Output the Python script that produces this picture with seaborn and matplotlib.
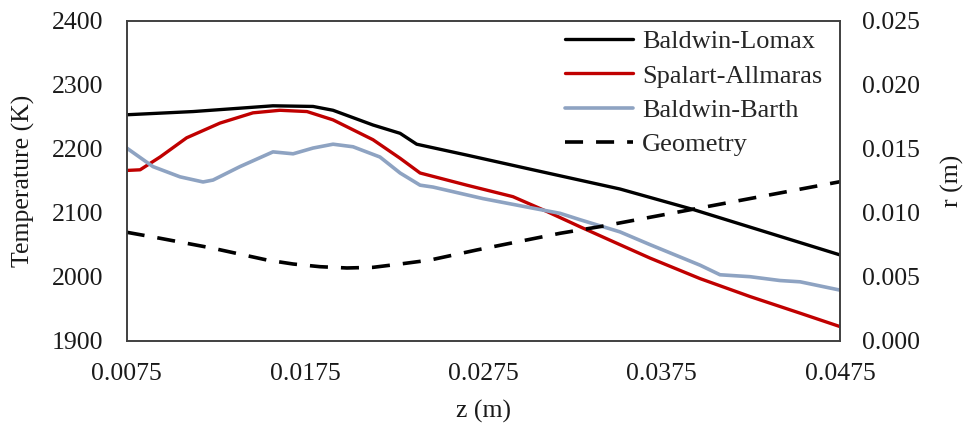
import matplotlib
matplotlib.use("Agg")
import matplotlib.pyplot as plt
import seaborn as sns

# Axial position z (m) and wall temperature (K) for each turbulence model
z_lomax = [0.0075, 0.01122, 0.01570, 0.01795, 0.01907, 0.02131, 0.02283, 0.02376,
           0.02657, 0.03028, 0.03516, 0.03926, 0.0475]
t_lomax = [2253, 2258, 2267, 2266, 2260, 2237, 2224, 2207,
           2190, 2167, 2137, 2105, 2034]

z_spalart = [0.0075, 0.00825, 0.00937, 0.01086, 0.01273, 0.01458, 0.01609, 0.01761,
             0.01907, 0.02131, 0.02283, 0.02395, 0.02657, 0.02916, 0.03105, 0.03292,
             0.03516, 0.03685, 0.03965, 0.04245, 0.04526, 0.0475]
t_spalart = [2166, 2167, 2187, 2217, 2240, 2256, 2260, 2258,
             2245, 2214, 2185, 2162, 2143, 2125, 2102, 2078,
             2050, 2029, 1997, 1969, 1943, 1922]

z_barth = [0.0075, 0.00897, 0.01049, 0.01178, 0.01234, 0.01385, 0.01570, 0.01683,
           0.01795, 0.01907, 0.02019, 0.02170, 0.02283, 0.02395, 0.02468, 0.02748,
           0.03028, 0.03180, 0.03292, 0.03516, 0.03685, 0.03965, 0.04077, 0.04245,
           0.04413, 0.04526, 0.0475]
t_barth = [2201, 2172, 2156, 2148, 2151, 2172, 2195, 2192,
           2201, 2207, 2203, 2187, 2162, 2143, 2140, 2122,
           2107, 2099, 2089, 2070, 2050, 2018, 2003, 2000,
           1994, 1992, 1979]

# Nozzle wall radius r (m) along z
z_geom = [0.0075, 0.00937, 0.01234, 0.01537, 0.01683, 0.01834, 0.01985, 0.02131,
          0.02283, 0.02451, 0.02714, 0.03180, 0.03404, 0.03926, 0.0475]
r_geom = [0.00847, 0.00800, 0.00722, 0.00630, 0.00599, 0.00578, 0.00568, 0.00573,
          0.00599, 0.00630, 0.00709, 0.00839, 0.00891, 0.01027, 0.01242]

x_ticks = [0.0075, 0.0175, 0.0275, 0.0375, 0.0475]
t_ticks = [1900, 2000, 2100, 2200, 2300, 2400]
r_ticks = [0.000, 0.005, 0.010, 0.015, 0.020, 0.025]

sns.set_style("white")
plt.rcParams["font.family"] = ["Liberation Serif", "DejaVu Serif"]
FS = 18.5
FS_LEG = 19
TXT = "#1a1a1a"

fig = plt.figure(figsize=(9.63, 4.23), dpi=100)
ax = fig.add_axes([0.1316, 0.1946, 0.7407, 0.7565])
ax2 = ax.twinx()

sns.lineplot(x=z_lomax, y=t_lomax, ax=ax, color="black", lw=2.4, sort=False)
sns.lineplot(x=z_spalart, y=t_spalart, ax=ax, color="#C00000", lw=2.4, sort=False)
sns.lineplot(x=z_barth, y=t_barth, ax=ax, color="#8EA3C2", lw=2.6, sort=False)
sns.lineplot(x=z_geom, y=r_geom, ax=ax2, color="black", lw=2.6, sort=False)
ax2.lines[0].set_dashes((5, 3.6))

ax.set_xlim(x_ticks[0], x_ticks[-1])
ax.set_ylim(t_ticks[0], t_ticks[-1])
ax2.set_ylim(r_ticks[0], r_ticks[-1])

ax.set_xticks(x_ticks)
ax.set_xticklabels([f"{v:.4f}" for v in x_ticks], fontsize=FS)
ax.set_yticks(t_ticks)
ax.set_yticklabels([str(v) for v in t_ticks], fontsize=FS)
ax2.set_yticks(r_ticks)
ax2.set_yticklabels([f"{v:.3f}" for v in r_ticks], fontsize=FS)

ax.tick_params(axis="x", length=0, pad=16, colors=TXT)
ax.tick_params(axis="y", length=0, pad=17, colors=TXT)
ax2.tick_params(axis="y", length=0, pad=16, colors=TXT)

ax.set_xlabel("z (m)", fontsize=FS, color=TXT)
ax.set_ylabel("Temperature (K)", fontsize=FS, color=TXT)
ax2.set_ylabel("r (m)", fontsize=FS, color=TXT)
ax.xaxis.set_label_coords(0.5, -0.185)
ax.yaxis.set_label_coords(-0.1286, 0.5)
ax2.yaxis.set_label_coords(1.141, 0.5)

for a in (ax, ax2):
    for s in a.spines.values():
        s.set_visible(True)
        s.set_color("#404040")
        s.set_linewidth(1.2)

handles = [ax.lines[0], ax.lines[1], ax.lines[2], ax2.lines[0]]
labels = ["Baldwin-Lomax", "Spalart-Allmaras", "Baldwin-Barth", "Geometry"]
ax2.legend(handles, labels, loc="upper left", bbox_to_anchor=(0.6145, 0.971),
           frameon=False, fontsize=FS_LEG, handlelength=2.58, handletextpad=0.33,
           labelspacing=0.41, borderpad=0, borderaxespad=0)

fig.savefig("out.png", dpi=100)
